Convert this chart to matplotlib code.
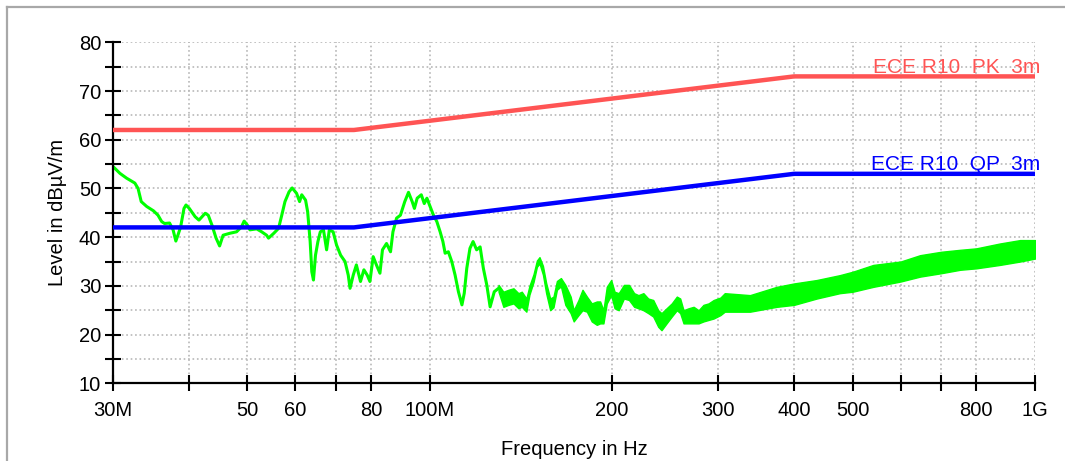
import matplotlib
matplotlib.use("Agg")
import matplotlib.pyplot as plt
from matplotlib.lines import Line2D
from matplotlib.ticker import FixedLocator, NullFormatter

plt.rcParams["font.family"] = ["Liberation Sans", "DejaVu Sans"]

RED = "#FF5454"
BLUE = "#0000FF"
GREEN = "#00FF00"
GRID = "#B8B8B8"

# limit lines (MHz, dBuV/m)
limit_freq = [30, 75, 400, 1000]
limit_pk = [62, 62, 73, 73]
limit_qp = [42, 42, 53, 53]

# measured trace, thin part (MHz, dBuV/m)
trace_freq = [30.0, 30.8, 31.6, 32.0, 32.6, 33.0, 33.4, 34.1, 35.0, 35.6, 36.1, 36.5,
              37.2, 37.7, 38.1, 38.4, 38.8, 39.3, 39.6, 40.1, 41.0, 41.6, 42.6, 43.1,
              43.7, 44.4, 45.0, 45.6, 46.8, 48.0, 48.9, 49.4, 50.0, 50.5, 51.8, 52.8,
              53.8, 54.2, 55.3, 56.3, 57.0, 57.7, 58.6, 59.3, 60.3, 61.0, 61.5, 62.4,
              62.9, 63.5, 63.9, 64.3, 64.8, 65.4, 66.0, 66.8, 67.6, 68.3, 69.3, 70.2,
              71.3, 72.5, 73.4, 73.9, 74.8, 75.7, 76.9, 77.9, 78.9, 79.7, 80.7, 81.7,
              82.8, 83.6, 84.9, 86.2, 87.0, 88.2, 89.5, 91.0, 92.3, 93.6, 94.4, 95.4,
              96.9, 98.0, 99.0, 100.2, 101.5, 102.8, 104.1, 105.2, 106.1, 107.4, 108.8,
              110.2, 111.6, 113.1, 114.1, 115.2, 116.6, 118.0, 119.6, 121.2, 122.7,
              124.3, 125.9, 127.9, 130.0]
trace_level = [54.5, 53.1, 52.1, 51.7, 51.1, 50.0, 47.3, 46.3, 45.4, 44.5, 43.2, 42.8,
               42.9, 41.5, 39.2, 40.4, 42.1, 45.9, 46.6, 45.9, 44.2, 43.5, 44.9, 44.5,
               42.5, 39.8, 38.2, 40.4, 40.8, 41.1, 42.1, 43.3, 42.5, 41.5, 41.7, 41.1,
               40.4, 39.8, 40.8, 41.8, 44.5, 47.3, 49.3, 50.1, 49.0, 47.3, 48.7, 47.6,
               45.2, 39.1, 32.9, 31.2, 36.3, 39.1, 41.1, 41.5, 37.4, 41.5, 41.1, 38.4,
               36.3, 35.0, 32.2, 29.5, 32.2, 34.3, 30.9, 33.3, 32.2, 30.9, 36.0, 34.3,
               32.6, 37.4, 38.7, 37.0, 41.1, 43.9, 44.5, 47.3, 49.2, 47.3, 45.9, 48.0,
               48.7, 46.9, 48.0, 46.3, 44.5, 43.2, 41.1, 39.1, 36.7, 37.0, 35.0,
               32.2, 28.8, 26.1, 28.5, 33.6, 37.7, 39.1, 37.4, 38.0, 33.6,
               30.2, 25.7, 28.8, 29.5]

# measured trace, noisy part drawn as min/max envelope
band_freq = [130.0, 132.4, 135.0, 137.6, 140.2, 142.0, 144.5, 146.2, 148.5, 150.4,
             151.9, 153.9, 155.8, 158.2, 160.2, 162.3, 164.8,
             167.6, 171.0, 173.0, 176.2, 178.9, 181.9, 185.3, 188.9, 191.3, 193.7,
             196.2, 199.5, 202.1, 205.3, 209.4, 213.5, 217.7, 221.3, 225.5, 229.7, 234.1,
             238.6, 241.6, 246.3, 251.2, 256.1, 259.4, 262.7, 267.8, 273.0, 278.2, 283.4,
             288.9, 294.6, 302.3, 307.3, 338.3, 374.5, 400.0, 436.0, 476.0, 500.0, 540.7,
             600.0, 646.0, 700.0, 752.0, 800.0, 875.0, 945.0, 1000.0]
band_hi = [30.2, 28.8, 29.2, 29.5, 28.5, 28.8, 27.4, 30.0, 32.4, 35.2, 35.9, 34.1,
           30.6, 27.4, 27.8, 31.0, 31.6,
           30.2, 27.8, 25.0, 27.1, 29.2, 27.8, 26.4, 26.8, 26.8, 25.0,
           29.8, 31.2, 28.8, 28.5, 30.2, 30.2, 28.5, 28.1, 28.5, 27.4, 27.1,
           25.0, 24.4, 25.4, 26.4, 27.8, 27.4, 25.0, 25.4, 25.7, 25.0, 26.1,
           26.4, 27.1, 27.6, 28.5, 28.1, 29.8, 30.5, 31.2, 32.2, 32.9, 34.3,
           35.0, 36.3, 37.0, 37.4, 37.7, 38.7, 39.4, 39.4]
band_lo = [28.8, 25.7, 26.1, 26.4, 25.4, 25.7, 24.7, 28.2, 30.8, 33.9, 34.6, 32.3,
           28.5, 25.0, 25.6, 29.2, 29.9,
           26.1, 24.4, 22.7, 24.0, 25.0, 24.7, 22.7, 22.0, 22.3, 22.3,
           26.4, 28.1, 25.4, 25.0, 27.4, 27.1, 25.7, 25.4, 25.0, 24.4, 23.7,
           21.6, 20.9, 22.3, 23.7, 25.0, 24.4, 22.3, 22.3, 22.3, 22.3, 22.7,
           23.0, 23.3, 24.0, 24.7, 24.7, 25.7, 26.1, 27.4, 28.5, 28.8, 29.8,
           30.9, 31.9, 32.6, 33.3, 33.6, 34.3, 35.0, 35.6]

x_ticks = [30, 40, 50, 60, 70, 80, 100, 200, 300, 400, 500, 600, 700, 800, 1000]
x_labels = ["30M", "", "50", "60", "", "80", "100M", "200", "300", "400", "500",
            "", "", "800", "1G"]


fig = plt.figure(figsize=(10.65, 4.61), dpi=100)
ax = fig.add_axes([113 / 1065, 1 - 383.3 / 461, 922 / 1065, 341 / 461])

ax.fill_between(band_freq, band_lo, band_hi, color=GREEN, lw=1.0, zorder=2)
ax.plot(trace_freq, trace_level, color=GREEN, lw=2.2, zorder=2)
ax.plot(limit_freq, limit_pk, color=RED, lw=3.2, solid_capstyle="butt", zorder=3)
ax.plot(limit_freq, limit_qp, color=BLUE, lw=3.2, solid_capstyle="butt", zorder=3)

ax.annotate("ECE R10  PK  3m", (1000, 73), xytext=(4, 2.8), textcoords="offset points",
            ha="right", va="baseline", color=RED, fontsize=15, annotation_clip=False)
ax.annotate("ECE R10  QP  3m", (1000, 53), xytext=(4, 2.5), textcoords="offset points",
            ha="right", va="baseline", color=BLUE, fontsize=15, annotation_clip=False)

ax.set_xscale("log")
ax.set_xlim(30, 1000)
ax.set_ylim(10, 80)
ax.xaxis.set_major_locator(FixedLocator(x_ticks))
ax.set_xticklabels(x_labels)
ax.xaxis.set_minor_locator(FixedLocator([]))
ax.xaxis.set_minor_formatter(NullFormatter())
ax.set_yticks(range(10, 81, 10))
ax.set_yticks(range(15, 80, 10), minor=True)

ax.grid(True, axis="x", which="major", ls=":", color=GRID, lw=1.2)
ax.grid(True, axis="y", which="both", ls=":", color=GRID, lw=1.2)
ax.set_axisbelow(True)

for side in ("top", "right"):
    ax.spines[side].set_visible(False)
for side in ("left", "bottom"):
    ax.spines[side].set_linewidth(1.6)

ax.tick_params(axis="both", which="both", direction="inout", length=11, width=1.5,
               labelsize=14.5)
ax.tick_params(axis="x", pad=7)
ax.tick_params(axis="y", pad=3)

ax.set_xlabel("Frequency in Hz", fontsize=14.5)
ax.xaxis.set_label_coords(0.5, -0.166)
ax.set_ylabel("Level in dBµV/m", fontsize=14.5)
ax.yaxis.set_label_coords(-0.050, 0.5)

# outer frame, only the top and left edges show in the picture
fig.add_artist(Line2D([7 / 1065, 1], [1 - 7 / 461, 1 - 7 / 461], color="#A8A8A8", lw=1.6,
                      transform=fig.transFigure))
fig.add_artist(Line2D([7 / 1065, 7 / 1065], [0, 1 - 7 / 461], color="#A8A8A8", lw=1.6,
                      transform=fig.transFigure))

fig.savefig("out.png", dpi=100)
